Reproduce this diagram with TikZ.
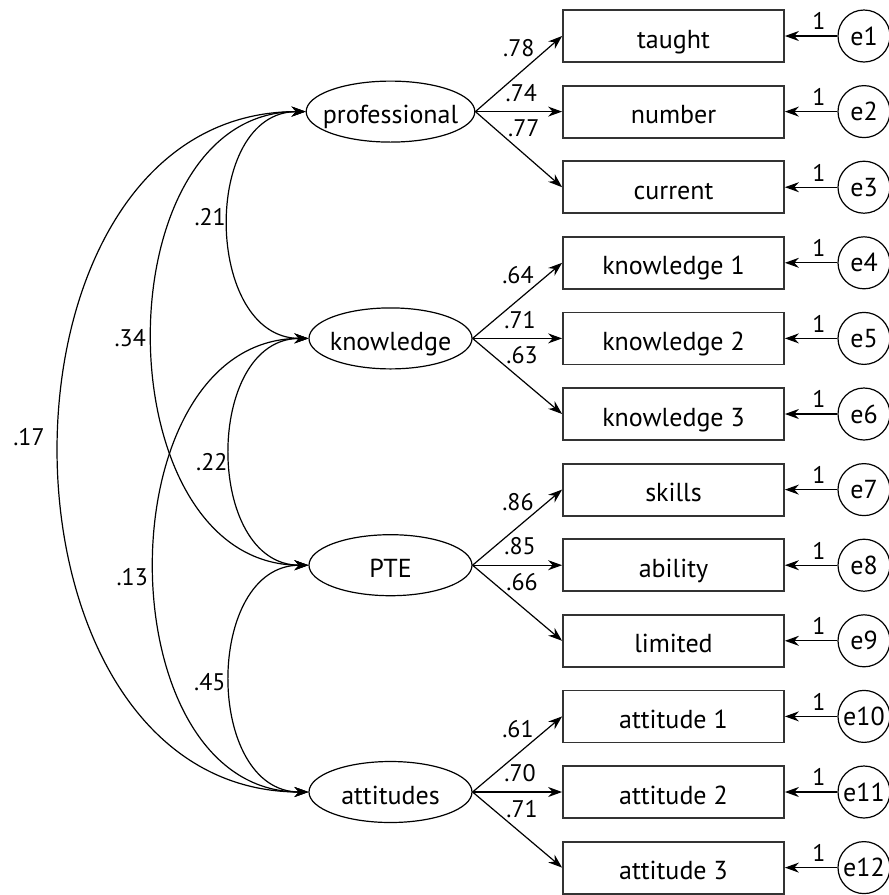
\documentclass[tikz,border=0pt]{standalone}
\usepackage{fontspec}
\setmainfont{PT Sans}
\usepackage{tikz}
\usetikzlibrary{arrows.meta,shapes.geometric}

\begin{document}
\begin{tikzpicture}[
    x=0.5pt, y=-0.5pt,
    every node/.style={font=\fontsize{13}{15}\selectfont},
    lat/.style  ={ellipse,draw,line width=0.6pt,minimum width=81.5pt,
                  minimum height=30.5pt,inner xsep=-4pt,inner ysep=0pt,
                  text height=12pt,text depth=0pt},
    ind/.style  ={rectangle,draw=black!80,line width=0.9pt,
                  minimum width=110.5pt,minimum height=26pt,inner sep=0pt,
                  text height=12pt,text depth=0pt},
    err/.style  ={circle,draw,line width=0.6pt,minimum size=26pt,
                  inner sep=0pt},
    >={Stealth[length=7pt,width=5pt]},
    load/.style ={->,line width=0.6pt},
    cov/.style  ={<->,line width=0.6pt,out=180,in=180},
    lbl/.style  ={font=\fontsize{12}{14}\selectfont,inner sep=0.5pt},
    lup/.style  ={lbl,pos=0.7,anchor=south east},
    lmid/.style ={lbl,pos=0.53,anchor=south,yshift=4.25pt},
    ldn/.style  ={lbl,pos=0.36,anchor=south west},
    one/.style  ={lbl,pos=0.35,anchor=south,yshift=2.25pt},
    clbl/.style ={lbl,midway,anchor=east},
  ]
  \useasboundingbox (0,0) rectangle (889,895);

  % Latent factors
  \node[lat] (Pr) at (390.5,111.6) {professional};
  \node[lat] (Kn) at (390.5,338.4) {knowledge};
  \node[lat] (PT) at (390.5,565.2) {PTE};
  \node[lat] (At) at (390.5,792)   {attitudes};

  % Indicators
  \node[ind] (x1)  at (673.5,36)    {taught};
  \node[ind] (x2)  at (673.5,111.6) {number};
  \node[ind] (x3)  at (673.5,187.2) {current};
  \node[ind] (x4)  at (673.5,262.8) {knowledge 1};
  \node[ind] (x5)  at (673.5,338.4) {knowledge 2};
  \node[ind] (x6)  at (673.5,414)   {knowledge 3};
  \node[ind] (x7)  at (673.5,489.6) {skills};
  \node[ind] (x8)  at (673.5,565.2) {ability};
  \node[ind] (x9)  at (673.5,640.8) {limited};
  \node[ind] (x10) at (673.5,716.4) {attitude 1};
  \node[ind] (x11) at (673.5,792)   {attitude 2};
  \node[ind] (x12) at (673.5,867.6) {attitude 3};

  % Error terms
  \node[err] (e1)  at (864,36)    {e1};
  \node[err] (e2)  at (864,111.6) {e2};
  \node[err] (e3)  at (864,187.2) {e3};
  \node[err] (e4)  at (864,262.8) {e4};
  \node[err] (e5)  at (864,338.4) {e5};
  \node[err] (e6)  at (864,414)   {e6};
  \node[err] (e7)  at (864,489.6) {e7};
  \node[err] (e8)  at (864,565.2) {e8};
  \node[err] (e9)  at (864,640.8) {e9};
  \node[err] (e10) at (864,716.4) {e10};
  \node[err] (e11) at (864,792)   {e11};
  \node[err] (e12) at (864,867.6) {e12};

  % Factor loadings
  \draw[load] (Pr.east) -- node[lup]{.78}  (x1.west);
  \draw[load] (Pr.east) -- node[lmid]{.74} (x2.west);
  \draw[load] (Pr.east) -- node[ldn]{.77}  (x3.west);
  \draw[load] (Kn.east) -- node[lup]{.64}  (x4.west);
  \draw[load] (Kn.east) -- node[lmid]{.71} (x5.west);
  \draw[load] (Kn.east) -- node[ldn]{.63}  (x6.west);
  \draw[load] (PT.east) -- node[lup]{.86}  (x7.west);
  \draw[load] (PT.east) -- node[lmid]{.85} (x8.west);
  \draw[load] (PT.east) -- node[ldn]{.66}  (x9.west);
  \draw[load] (At.east) -- node[lup]{.61}  (x10.west);
  \draw[load] (At.east) -- node[lmid]{.70} (x11.west);
  \draw[load] (At.east) -- node[ldn]{.71}  (x12.west);

  % Error paths
  \draw[load] (e1)  -- node[one]{1} (x1);
  \draw[load] (e2)  -- node[one]{1} (x2);
  \draw[load] (e3)  -- node[one]{1} (x3);
  \draw[load] (e4)  -- node[one]{1} (x4);
  \draw[load] (e5)  -- node[one]{1} (x5);
  \draw[load] (e6)  -- node[one]{1} (x6);
  \draw[load] (e7)  -- node[one]{1} (x7);
  \draw[load] (e8)  -- node[one]{1} (x8);
  \draw[load] (e9)  -- node[one]{1} (x9);
  \draw[load] (e10) -- node[one]{1} (x10);
  \draw[load] (e11) -- node[one]{1} (x11);
  \draw[load] (e12) -- node[one]{1} (x12);

  % Correlations between factors
  \draw[cov,looseness=1.18] (Pr.west) to
        node[clbl,xshift=-0.5pt,yshift=4pt]{.21}   (Kn.west);
  \draw[cov,looseness=1.16] (Pr.west) to
        node[clbl,xshift=-2.5pt]{.34}              (PT.west);
  \draw[cov,looseness=1.24] (Pr.west) to
        node[clbl,xshift=-6.5pt,yshift=7.5pt]{.17} (At.west);
  \draw[cov,looseness=1.18] (Kn.west) to
        node[clbl,xshift=-0.5pt,yshift=-5pt]{.22}  (PT.west);
  \draw[cov,looseness=1.16] (Kn.west) to
        node[clbl,xshift=-2.5pt,yshift=-6pt]{.13}  (At.west);
  \draw[cov,looseness=1.18] (PT.west) to
        node[clbl,xshift=-1.5pt,yshift=-2pt]{.45}  (At.west);
\end{tikzpicture}
\end{document}
